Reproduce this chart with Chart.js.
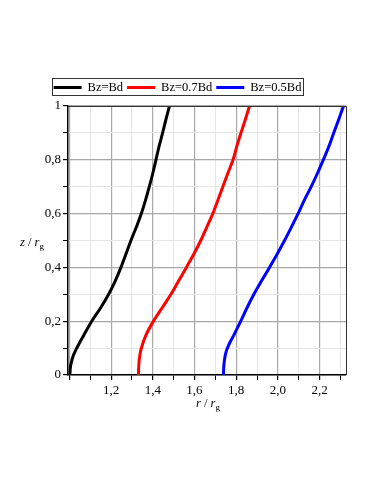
<!DOCTYPE html>
<html>
<head>
<meta charset="utf-8">
<script src="https://cdn.jsdelivr.net/npm/chart.js@4"></script>
<style>
  html, body { margin: 0; padding: 0; background: #fff; }
  #wrap { width: 374px; height: 484px; position: relative; }
</style>
</head>
<body>
<div id="wrap"><canvas id="c"></canvas></div>
<script>
// heights z / rg shared by all curves
const zValues = [0, 0.025, 0.05, 0.075, 0.1, 0.15, 0.2, 0.25, 0.3, 0.35, 0.4, 0.45, 0.5,
  0.55, 0.6, 0.65, 0.7, 0.75, 0.8, 0.85, 0.9, 0.95, 1.0];
// radius r / rg for each field ratio
const rBd = [1.002, 1.004, 1.010, 1.020, 1.035, 1.070, 1.107, 1.150, 1.188, 1.220, 1.247, 1.271, 1.295,
  1.321, 1.345, 1.365, 1.383, 1.400, 1.415, 1.430, 1.447, 1.463, 1.480];
const r07Bd = [1.331, 1.332, 1.334, 1.338, 1.345, 1.368, 1.403, 1.445, 1.487, 1.524, 1.561, 1.597, 1.630,
  1.659, 1.688, 1.712, 1.736, 1.760, 1.785, 1.803, 1.823, 1.844, 1.864];
const r05Bd = [1.739, 1.740, 1.743, 1.748, 1.758, 1.790, 1.822, 1.852, 1.885, 1.922, 1.960, 1.997, 2.032,
  2.065, 2.097, 2.127, 2.160, 2.190, 2.218, 2.245, 2.268, 2.292, 2.315];
const seriesNames = ['Bz=Bd', 'Bz=0.7Bd', 'Bz=0.5Bd'];
const seriesColors = ['#000000', '#ff0000', '#0000ff'];
const xTicks = [1.0, 1.1, 1.2, 1.3, 1.4, 1.5, 1.6, 1.7, 1.8, 1.9, 2.0, 2.1, 2.2, 2.3];
const yTicks = [0, 0.1, 0.2, 0.3, 0.4, 0.5, 0.6, 0.7, 0.8, 0.9, 1.0];

const FONT = '"Liberation Serif", "DejaVu Serif", serif';

function pts(rs) {
  return rs.map((r, i) => ({ x: r, y: zValues[i] }));
}
function isMajor(v) {
  return Math.abs(v * 5 - Math.round(v * 5)) < 1e-6;
}

// frame, legend box and axis titles (maple style)
const decor = {
  id: 'decor',
  afterDraw(chart) {
    const ctx = chart.ctx;
    const a = chart.chartArea;
    ctx.save();
    ctx.strokeStyle = '#333';
    ctx.lineWidth = 1;
    ctx.beginPath();
    ctx.moveTo(a.left, a.top + 0.5);
    ctx.lineTo(a.right + 0.5, a.top + 0.5);
    ctx.lineTo(a.right + 0.5, a.bottom);
    ctx.stroke();

    // legend
    ctx.font = '12.5px ' + FONT;
    ctx.textBaseline = 'middle';
    const lineLen = 28, gap1 = 6, gap2 = 4;
    let total = 0;
    seriesNames.forEach((n, i) => {
      total += lineLen + gap1 + ctx.measureText(n).width + (i < seriesNames.length - 1 ? gap2 : 0);
    });
    const boxL = 52, boxR = 303, boxT = 78.5, boxB = 95.5;
    ctx.strokeStyle = '#333';
    ctx.strokeRect(boxL + 0.5, boxT, boxR - boxL, boxB - boxT);
    let x = (boxL + boxR) / 2 - total / 2;
    const ym = (boxT + boxB) / 2 + 0.5;
    seriesNames.forEach((n, i) => {
      ctx.strokeStyle = seriesColors[i];
      ctx.lineWidth = 3;
      ctx.beginPath();
      ctx.moveTo(x, ym);
      ctx.lineTo(x + lineLen, ym);
      ctx.stroke();
      x += lineLen + gap1;
      ctx.fillStyle = '#000';
      ctx.fillText(n, x, ym);
      x += ctx.measureText(n).width + gap2;
    });

    // axis titles r / rg and z / rg
    function title(sym, x0, y0) {
      ctx.fillStyle = '#000';
      ctx.textBaseline = 'alphabetic';
      ctx.font = 'italic 12.5px ' + FONT;
      ctx.fillText(sym, x0, y0);
      x0 += ctx.measureText(sym).width;
      ctx.font = '12.5px ' + FONT;
      ctx.fillText(' / ', x0, y0);
      x0 += ctx.measureText(' / ').width;
      ctx.font = 'italic 12.5px ' + FONT;
      ctx.fillText('r', x0, y0);
      x0 += ctx.measureText('r').width;
      ctx.font = '9px ' + FONT;
      ctx.fillText('g', x0, y0 + 3);
    }
    title('r', 196, 407);
    title('z', 20, 246);
    ctx.restore();
  }
};

new Chart(document.getElementById('c'), {
  type: 'scatter',
  data: {
    datasets: [rBd, r07Bd, r05Bd].map((rs, i) => ({
      label: seriesNames[i],
      data: pts(rs),
      showLine: true,
      borderColor: seriesColors[i],
      backgroundColor: seriesColors[i],
      borderWidth: 3,
      pointRadius: 0,
      cubicInterpolationMode: 'monotone'
    }))
  },
  options: {
    responsive: true,
    maintainAspectRatio: false,
    animation: false,
    layout: { padding: { top: 106, right: 28, bottom: 0, left: 0 } },
    plugins: { legend: { display: false }, tooltip: { enabled: false } },
    scales: {
      x: {
        type: 'linear',
        min: 0.993,
        max: 2.327,
        afterBuildTicks: s => { s.ticks = xTicks.map(v => ({ value: v })); },
        afterFit: s => { s.height = 109; },
        grid: {
          color: c => isMajor(c.tick.value) ? '#a8a8a8' : '#e6e6e6',
          lineWidth: c => isMajor(c.tick.value) ? 1.2 : 1,
          tickColor: '#000',
          tickLength: 5
        },
        border: { color: '#000', width: 1.5 },
        ticks: {
          autoSkip: false,
          maxRotation: 0,
          padding: 3,
          color: '#000',
          font: { family: FONT, size: 13 },
          callback: v => isMajor(v) && v > 1.05 ? v.toFixed(1).replace('.', ',') : ''
        }
      },
      y: {
        type: 'linear',
        min: 0,
        max: 1,
        afterBuildTicks: s => { s.ticks = yTicks.map(v => ({ value: v })); },
        afterFit: s => { s.width = 68; },
        grid: {
          color: c => isMajor(c.tick.value) ? '#a8a8a8' : '#e6e6e6',
          lineWidth: c => isMajor(c.tick.value) ? 1.2 : 1,
          tickColor: '#000',
          tickLength: 5
        },
        border: { color: '#000', width: 1.5 },
        ticks: {
          autoSkip: false,
          padding: 2,
          color: '#000',
          font: { family: FONT, size: 13 },
          callback: v => isMajor(v) ? (Number.isInteger(v) ? String(v) : v.toFixed(1).replace('.', ',')) : ''
        }
      }
    }
  },
  plugins: [decor]
});
</script>
</body>
</html>
